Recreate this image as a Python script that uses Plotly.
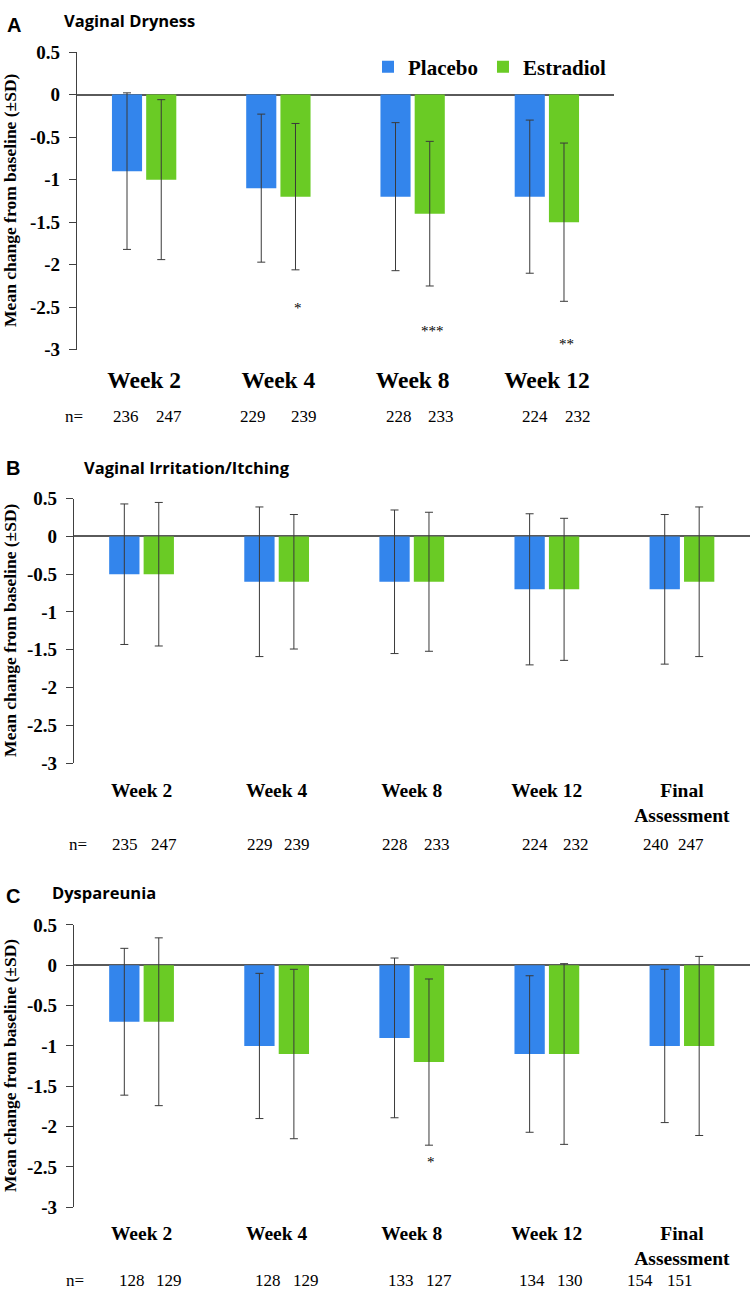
import plotly.graph_objects as go

#Categories
weeks_a = ["Week 2", "Week 4", "Week 8", "Week 12"]
weeks_bc = ["Week 2", "Week 4", "Week 8", "Week 12", "Final<br>Assessment"]

#Y axis ticks
y_tickvals = [0.5, 0, -0.5, -1, -1.5, -2, -2.5, -3]
y_ticktext = ["0.5", "0", "-0.5", "-1", "-1.5", "-2", "-2.5", "-3"]

#Panel A - Vaginal Dryness
placebo_a = [-0.9, -1.1, -1.2, -1.2]
placebo_sd_a = [0.92, 0.87, 0.87, 0.90]
estradiol_a = [-1.0, -1.2, -1.4, -1.5]
estradiol_sd_a = [0.94, 0.86, 0.85, 0.93]
n_placebo_a = [236, 229, 228, 224]
n_estradiol_a = [247, 239, 233, 232]
stars_a = ["", "*", "***", "**"]

#Panel B - Vaginal Irritation/Itching
placebo_b = [-0.5, -0.6, -0.6, -0.7, -0.7]
placebo_sd_b = [0.93, 0.99, 0.95, 1.00, 0.99]
estradiol_b = [-0.5, -0.6, -0.6, -0.7, -0.6]
estradiol_sd_b = [0.95, 0.89, 0.92, 0.94, 0.99]
n_placebo_b = [235, 229, 228, 224, 240]
n_estradiol_b = [247, 239, 233, 232, 247]
stars_b = ["", "", "", "", ""]

#Panel C - Dyspareunia
placebo_c = [-0.7, -1.0, -0.9, -1.1, -1.0]
placebo_sd_c = [0.91, 0.90, 0.99, 0.97, 0.95]
estradiol_c = [-0.7, -1.1, -1.2, -1.1, -1.0]
estradiol_sd_c = [1.04, 1.05, 1.03, 1.12, 1.11]
n_placebo_c = [128, 128, 133, 134, 154]
n_estradiol_c = [129, 129, 127, 130, 151]
stars_c = ["", "", "*", "", ""]

#Styling
W, H = 750, 1297
BLUE = "#3385ec"
GREEN = "#6acb25"
SERIF = "Times New Roman, Liberation Serif, serif"
SANS = "Open Sans"
AXIS_GRAY = "#404040"


def px_x(v):
    return v / W


def px_y(v):
    return 1 - v / H


#Layout of each panel (pixel positions in the page)
panels = [
    dict(key="", letter="A", title="Vaginal Dryness", cats=weeks_a,
         placebo=placebo_a, placebo_sd=placebo_sd_a,
         estradiol=estradiol_a, estradiol_sd=estradiol_sd_a,
         n_p=n_placebo_a, n_e=n_estradiol_a, stars=stars_a,
         star_y=[0, -2.47, -2.74, -2.90],
         x0=77, x1=614, y_top=42.7, y_bot=345.4,
         letter_pos=(5, 15), title_pos=(62, 11),
         week_font=23.5, week_standoff=14,
         n_shift=66.3, n_font=17, n_eq_x=74,
         n_off_p=[-18, -25, -13.5, -12], n_off_e=[25, 26, 28.5, 31]),
    dict(key="2", letter="B", title="Vaginal Irritation/Itching", cats=weeks_bc,
         placebo=placebo_b, placebo_sd=placebo_sd_b,
         estradiol=estradiol_b, estradiol_sd=estradiol_sd_b,
         n_p=n_placebo_b, n_e=n_estradiol_b, stars=stars_b,
         star_y=[0, 0, 0, 0, 0],
         x0=74, x1=749.5, y_top=496.7, y_bot=765.5,
         letter_pos=(4, 466), title_pos=(82, 465),
         week_font=19.5, week_standoff=13,
         n_shift=81.2, n_font=17, n_eq_x=78,
         n_off_p=[-16.5, -17, -16.5, -11.5, -25.5], n_off_e=[22, 20.5, 25.5, 29.5, 9.5]),
    dict(key="3", letter="C", title="Dyspareunia", cats=weeks_bc,
         placebo=placebo_c, placebo_sd=placebo_sd_c,
         estradiol=estradiol_c, estradiol_sd=estradiol_sd_c,
         n_p=n_placebo_c, n_e=n_estradiol_c, stars=stars_c,
         star_y=[0, 0, -2.40, 0, 0],
         x0=74, x1=749.5, y_top=930, y_bot=1217,
         letter_pos=(4, 901), title_pos=(50, 897),
         week_font=19.5, week_standoff=12,
         n_shift=73, n_font=17, n_eq_x=75,
         n_off_p=[-10, -8.5, -10.5, -14.5, -41.5], n_off_e=[27.5, 29.5, 27, 23.5, -1.5]),
]

fig = go.Figure()
annotations = []
layout_axes = {}

for i, p in enumerate(panels):
    xname, yname = "x" + p["key"], "y" + p["key"]

    #Bars with SD error bars
    for name, vals, sd, color in [("Placebo", p["placebo"], p["placebo_sd"], BLUE),
                                  ("Estradiol", p["estradiol"], p["estradiol_sd"], GREEN)]:
        fig.add_bar(
            x=p["cats"], y=vals, name=name,
            marker=dict(color=color, line=dict(width=0)),
            error_y=dict(type="data", array=sd, visible=True,
                         color="#3a3a3a", thickness=1, width=4),
            xaxis=xname, yaxis=yname,
            showlegend=(i == 0),
        )

    layout_axes["xaxis" + p["key"]] = dict(
        domain=[px_x(p["x0"]), px_x(p["x1"])],
        anchor=yname, type="category",
        showline=False, showgrid=False, zeroline=False, ticks="",
        tickfont=dict(family=SERIF, size=p["week_font"], color="black", weight="bold"),
        ticklabelstandoff=p["week_standoff"],
    )
    layout_axes["yaxis" + p["key"]] = dict(
        domain=[px_y(p["y_bot"]), px_y(p["y_top"])],
        anchor=xname, range=[-3, 0.5],
        tickvals=y_tickvals, ticktext=y_ticktext,
        showline=True, linecolor=AXIS_GRAY, linewidth=1.3,
        ticks="outside", ticklen=7, tickwidth=1.3, tickcolor=AXIS_GRAY,
        showgrid=False,
        zeroline=True, zerolinecolor="#5a5a5a", zerolinewidth=1.6,
        tickfont=dict(family=SERIF, size=19, color="black", weight="bold"),
        ticklabelstandoff=5,
    )

    #Panel letter and title
    annotations.append(dict(
        x=px_x(p["letter_pos"][0]), y=px_y(p["letter_pos"][1]), xref="paper", yref="paper",
        text=p["letter"], showarrow=False, xanchor="left", yanchor="middle",
        font=dict(family="Liberation Sans, Arial", size=20, color="black", weight="bold")))
    annotations.append(dict(
        x=px_x(p["title_pos"][0]), y=px_y(p["title_pos"][1]), xref="paper", yref="paper",
        text=p["title"], showarrow=False, xanchor="left", yanchor="middle",
        font=dict(family=SANS, size=16.5, color="black", weight="bold")))

    #Y axis title
    annotations.append(dict(
        x=px_x(10), y=px_y((p["y_top"] + p["y_bot"]) / 2), xref="paper", yref="paper",
        text="Mean change from baseline (±SD)", textangle=-90, showarrow=False,
        xanchor="center", yanchor="middle",
        font=dict(family=SERIF, size=17.5, color="black", weight="bold")))

    #Sample sizes
    annotations.append(dict(
        x=px_x(p["n_eq_x"]), y=-3, xref="paper", yref=yname, yshift=-p["n_shift"],
        text="n=", showarrow=False, xanchor="center", yanchor="middle",
        font=dict(family=SERIF, size=p["n_font"], color="black")))
    for j, cat in enumerate(p["cats"]):
        for n, off in [(p["n_p"][j], p["n_off_p"][j]), (p["n_e"][j], p["n_off_e"][j])]:
            annotations.append(dict(
                x=cat, y=-3, xref=xname, yref=yname, xshift=off, yshift=-p["n_shift"],
                text=str(n), showarrow=False, xanchor="center", yanchor="middle",
                font=dict(family=SERIF, size=p["n_font"], color="black")))

        #Significance markers under the estradiol bar
        if p["stars"][j]:
            annotations.append(dict(
                x=cat, y=p["star_y"][j], xref=xname, yref=yname, xshift=19.5, yshift=-3,
                text=p["stars"][j], showarrow=False, xanchor="center", yanchor="middle",
                font=dict(family=SERIF, size=15, color="black")))

fig.update_layout(
    width=W, height=H,
    margin=dict(l=0, r=0, t=0, b=0),
    paper_bgcolor="white", plot_bgcolor="white",
    barmode="group", bargap=0.49, bargroupgap=0.12,
    legend=dict(
        orientation="h", x=px_x(368), y=px_y(58), xanchor="left", yanchor="middle",
        font=dict(family=SERIF, size=21, color="black", weight="bold"),
        itemwidth=30, bgcolor="rgba(0,0,0,0)", tracegroupgap=0,
    ),
    annotations=annotations,
    **layout_axes,
)

#Page has no body margin so the figure sits at the top-left corner
fig.write_html(
    "out.html",
    config={"displayModeBar": False},
    post_script="document.body.style.margin='0';document.body.style.overflow='hidden';",
)
